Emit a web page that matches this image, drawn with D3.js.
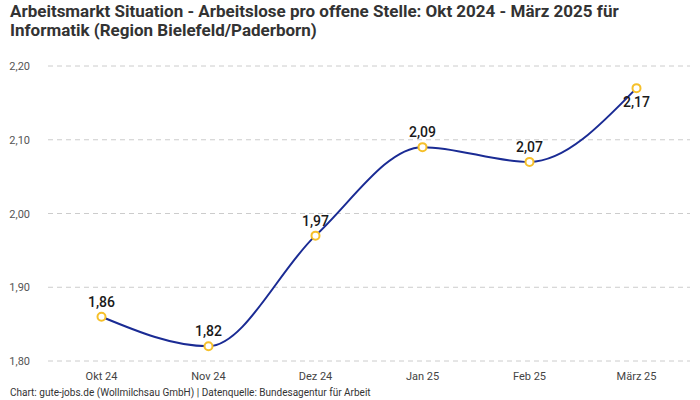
<!DOCTYPE html>
<html>
<head>
<meta charset="utf-8">
<script src="https://cdn.jsdelivr.net/npm/d3@7"></script>
<style>
  body { margin: 0; background: #fff; }
  text { font-family: "Roboto", "Liberation Sans", sans-serif; }
</style>
</head>
<body>
<div id="chart"></div>
<script>
const months = ['Okt 24', 'Nov 24', 'Dez 24', 'Jan 25', 'Feb 25', 'März 25'];
const ratio = [1.86, 1.82, 1.97, 2.09, 2.07, 2.17];
const yTicks = [1.80, 1.90, 2.00, 2.10, 2.20];

const width = 700;
const height = 400;
const fmt = v => v.toFixed(2).replace('.', ',');

const svg = d3.select('#chart').append('svg')
    .attr('width', width)
    .attr('height', height);

// Title
svg.append('text')
    .attr('x', 10).attr('y', 17)
    .style('font-size', '17px').style('font-weight', 'bold').style('fill', '#333')
    .text('Arbeitsmarkt Situation - Arbeitslose pro offene Stelle: Okt 2024 - März 2025 für');
svg.append('text')
    .attr('x', 10).attr('y', 36)
    .style('font-size', '17px').style('font-weight', 'bold').style('fill', '#333')
    .text('Informatik (Region Bielefeld/Paderborn)');

const x = d3.scaleBand()
    .domain(months)
    .range([48, 690]);

const y = d3.scaleLinear()
    .domain([1.80, 2.20])
    .range([361, 66]);

const cx = (d, i) => x(months[i]) + x.bandwidth() / 2;

// gridlines
svg.append('g')
    .selectAll('line')
    .data(yTicks)
    .enter()
    .append('line')
    .attr('x1', 48).attr('x2', 690)
    .attr('y1', d => y(d)).attr('y2', d => y(d))
    .style('stroke', '#ccc')
    .style('stroke-dasharray', '5,4');

// y axis labels
const yAxis = svg.append('g')
    .attr('transform', 'translate(33,0)')
    .call(d3.axisLeft(y).tickValues(yTicks).tickFormat(fmt).tickSize(0));
yAxis.select('.domain').remove();
yAxis.selectAll('text')
    .style('font-size', '11px').style('fill', '#555');

// x axis labels
const xAxis = svg.append('g')
    .attr('transform', 'translate(0,369)')
    .call(d3.axisBottom(x).tickSize(0));
xAxis.select('.domain').remove();
xAxis.selectAll('text')
    .style('font-size', '11px').style('fill', '#444');

// line
const line = d3.line()
    .x(cx)
    .y(d => y(d))
    .curve(d3.curveMonotoneX);

svg.append('path')
    .datum(ratio)
    .attr('d', line)
    .style('fill', 'none')
    .style('stroke', '#1a2b94')
    .style('stroke-width', 2);

// points
svg.selectAll('.pt')
    .data(ratio)
    .enter()
    .append('circle')
    .attr('class', 'pt')
    .attr('cx', cx)
    .attr('cy', d => y(d))
    .attr('r', 4)
    .style('fill', '#fff')
    .style('stroke', '#f6c02a')
    .style('stroke-width', 2);

// value labels (last one sits below its point)
svg.selectAll('.lbl')
    .data(ratio)
    .enter()
    .append('text')
    .attr('class', 'lbl')
    .attr('x', cx)
    .attr('y', (d, i) => i === ratio.length - 1 ? y(d) + 19 : y(d) - 10)
    .attr('text-anchor', 'middle')
    .style('font-size', '14px')
    .style('font-weight', 500)
    .style('fill', '#1a1a1a')
    .text(fmt);

// footer
svg.append('text')
    .attr('x', 10).attr('y', 396)
    .style('font-size', '10px').style('fill', '#333')
    .text('Chart: gute-jobs.de (Wollmilchsau GmbH) | Datenquelle: Bundesagentur für Arbeit');
</script>
</body>
</html>
